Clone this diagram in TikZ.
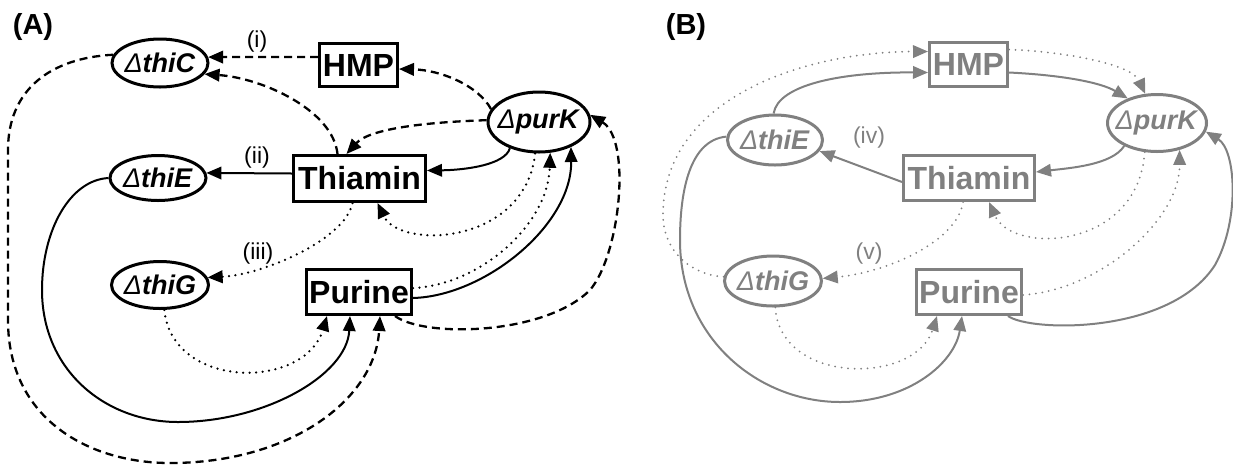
\documentclass[tikz,border=0pt]{standalone}
\usepackage{fontspec}
\setmainfont{Liberation Sans}
\usetikzlibrary{shapes.geometric,arrows.meta}
\definecolor{bgray}{RGB}{128,128,128}
\newcommand{\genelabel}[1]{\makebox[0pt]{{\itshape Δ}\textbf{\textit{#1}}}}
\tikzset{
  boxnode/.style={draw, rectangle, line width=3pt, inner sep=0pt,
    font=\fontsize{32}{34}\selectfont\bfseries},
  ellnode/.style={draw, ellipse, line width=3pt, inner sep=0pt,
    font=\fontsize{27}{29}\selectfont},
  tag/.style={inner sep=0pt, font=\fontsize{23}{25}\selectfont},
  panel/.style={inner sep=0pt, font=\fontsize{29}{31}\selectfont\bfseries},
  tip/.style={-{Triangle[length=15pt,width=12.5pt]}},
  solidc/.style={tip, line width=2pt},
  dashc/.style={tip, line width=2.3pt, dash pattern=on 8pt off 5pt},
  dotc/.style={tip, line width=2.5pt, line cap=round, dash pattern=on 0pt off 6.5pt},
}
\begin{document}
\begin{tikzpicture}[x=1pt,y=-1pt]
\useasboundingbox (0,0) rectangle (1233,467);

% ---------------- panel (A) ----------------
\node[panel] (labA) at (33,27) {(A)};
\node[ellnode, minimum width=96pt, minimum height=48pt] (thiCA) at (160,63) {\genelabel{thiC}};
\node[ellnode, minimum width=96pt, minimum height=45pt] (thiEA) at (158,178) {\genelabel{thiE}};
\node[ellnode, minimum width=97pt, minimum height=47pt] (thiGA) at (160,285) {\genelabel{thiG}};
\node[ellnode, minimum width=102pt, minimum height=60pt] (purKA) at (539,122) {\genelabel{purK}};
\node[boxnode, minimum width=78pt, minimum height=43pt] (hmpA) at (358.5,65) {HMP};
\node[boxnode, minimum width=132pt, minimum height=46pt] (thmA) at (359.5,178.5) {Thiamin};
\node[boxnode, minimum width=105pt, minimum height=45pt] (purA) at (359,292) {Purine};
\node[tag] (tagi) at (257,42) {(i)};
\node[tag] (tagii) at (257,158) {(ii)};
\node[tag] (tagiii) at (258,254) {(iii)};

\draw[dashc] ([yshift=8pt]hmpA.west) -- (thiCA.7);
\draw[dashc] ([xshift=-22pt]thmA.north) .. controls (333,110) and (262,78) .. (thiCA.-14);
\draw[dashc] (purKA.165) .. controls (478,85) and (440,70) .. ([yshift=-4pt]hmpA.east);
\draw[dashc] (purKA.178) .. controls (430,122) and (370,128) .. ([xshift=-13pt]thmA.north);
\draw[solidc] (purKA.222) .. controls (505,165) and (465,170) .. ([yshift=8pt]thmA.east);
\draw[solidc] ([yshift=5pt]thmA.west) -- (thiEA.6);
\draw[dotc] (purKA.263) .. controls (525,245) and (400,250) .. ([xshift=18pt]thmA.south);
\draw[dotc] ([xshift=-7pt]thmA.south) .. controls (345,240) and (262,275) .. (thiGA.9);
\draw[dotc] ([yshift=4pt]purA.east) .. controls (480,285) and (548,225) .. (purKA.290);
\draw[solidc] ([yshift=-6pt]purA.east) .. controls (485,296) and (572,225) .. (purKA.-38);
\draw[dashc] ([xshift=-18pt]purA.south east) .. controls (425,338) and (545,335) .. (590,290)
  .. controls (620,255) and (632,140) .. (purKA.8);
\draw[solidc] (thiEA.west) .. controls (70,180) and (42,230) .. (42,290)
  .. controls (42,370) and (105,422) .. (178,422)
  .. controls (265,422) and (347,375) .. ([xshift=-9pt]purA.south);
\draw[dashc] (thiCA.170) .. controls (50,58) and (8,90) .. (8,150) -- (8,320)
  .. controls (8,420) and (90,463) .. (170,463)
  .. controls (290,463) and (375,400) .. ([xshift=21pt]purA.south);
\draw[dotc] (thiGA.-80) .. controls (172,390) and (305,390) .. ([xshift=-32pt]purA.south);

% ---------------- panel (B) ----------------
\node[panel] (labB) at (686,27) {(B)};
\begin{scope}[color=bgray]
\node[ellnode, minimum width=95pt, minimum height=50pt] (thiEB) at (775,140) {\genelabel{thiE}};
\node[ellnode, minimum width=97pt, minimum height=50pt] (thiGB) at (773,281) {\genelabel{thiG}};
\node[ellnode, minimum width=99pt, minimum height=57pt] (purKB) at (1157,123) {\genelabel{purK}};
\node[boxnode, minimum width=78pt, minimum height=44pt] (hmpB) at (968.5,64.5) {HMP};
\node[boxnode, minimum width=131pt, minimum height=45pt] (thmB) at (969,178) {Thiamin};
\node[boxnode, minimum width=105pt, minimum height=45pt] (purB) at (969,292) {Purine};
\node[tag] (tagiv) at (869,138) {(iv)};
\node[tag] (tagv) at (869,254) {(v)};

\draw[dotc, line width=2pt] (thiGB.175) .. controls (690,275) and (663,250) .. (663,215)
  .. controls (663,100) and (800,52) .. ([yshift=13pt]hmpB.west);
\draw[solidc] (thiEB.93) .. controls (778,85) and (840,72) .. ([yshift=-8pt]hmpB.west);
\draw[solidc] ([yshift=-8pt]hmpB.east) .. controls (1060,75) and (1100,82) .. (purKB.140);
\draw[dotc, line width=2pt] ([yshift=15pt]hmpB.east) .. controls (1070,52) and (1132,65) .. (purKB.112);
\draw[solidc] (purKB.215) .. controls (1112,165) and (1070,168) .. ([yshift=6pt]thmB.east);
\draw[solidc] ([yshift=-4pt]thmB.west) -- (thiEB.-14);
\draw[dotc, line width=2pt] (purKB.-113) .. controls (1138,250) and (1012,255) .. ([xshift=20pt]thmB.south);
\draw[dotc, line width=2pt] ([xshift=-6pt]thmB.south) .. controls (958,240) and (890,272) .. (thiGB.3);
\draw[dotc, line width=2pt] ([yshift=-3pt]purB.east) .. controls (1100,290) and (1180,220) .. (purKB.-50);
\draw[solidc] ([xshift=-15pt]purB.south east) .. controls (1030,332) and (1170,335) .. (1215,265)
  .. controls (1240,220) and (1236,150) .. (purKB.-10);
\draw[solidc] (thiEB.176) .. controls (690,140) and (680,190) .. (680,240)
  .. controls (680,340) and (760,402) .. (840,402)
  .. controls (910,402) and (955,362) .. ([xshift=-7pt]purB.south);
\draw[dotc, line width=2pt] (thiGB.-85) .. controls (780,385) and (915,385) .. ([xshift=-32pt]purB.south);
\end{scope}
\end{tikzpicture}
\end{document}
